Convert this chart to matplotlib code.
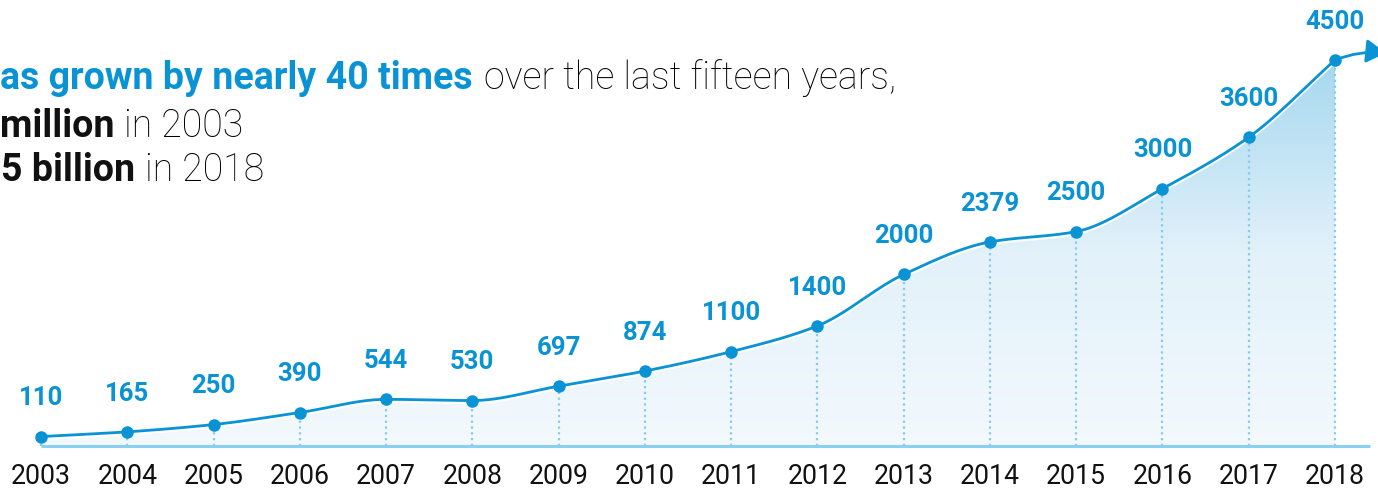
import numpy as np
import matplotlib
matplotlib.use("Agg")
import matplotlib.pyplot as plt
from matplotlib import patheffects as pe
from matplotlib.colors import LinearSegmentedColormap

years = ["2003", "2004", "2005", "2006", "2007", "2008", "2009", "2010",
         "2011", "2012", "2013", "2014", "2015", "2016", "2017", "2018"]
values = [110, 165, 250, 390, 544, 530, 697, 874, 1100, 1400, 2000, 2379,
          2500, 3000, 3600, 4500]
value_labels = [str(v) for v in values]

header_lines = [
    ("as grown by nearly 40 times", "over the last fifteen years,"),
    ("million", "in 2003"),
    ("5 billion", "in 2018"),
]

BLUE = "#0a93d4"
W, H = 1378, 491

fig = plt.figure(figsize=(W / 100, H / 100), dpi=100)
ax = fig.add_axes([0, 0, 1, 1])
ax.set_axis_off()

# pixel mapping
x0_px, dx_px = 41, 86.27
base_px, top_px = 446, 60
k = (base_px - top_px) / 4500.0
ax.set_xlim(-x0_px / dx_px, 15 + (W - 1335) / dx_px)
ax.set_ylim((base_px - H) / k, base_px / k)

xs = np.arange(len(values), dtype=float)
ys = np.array(values, dtype=float)


def pchip(x, y, xn):
    h = np.diff(x)
    d = np.diff(y) / h
    m = np.zeros_like(y)
    for i in range(1, len(y) - 1):
        if d[i - 1] * d[i] <= 0:
            m[i] = 0
        else:
            w1 = 2 * h[i] + h[i - 1]
            w2 = h[i] + 2 * h[i - 1]
            m[i] = (w1 + w2) / (w1 / d[i - 1] + w2 / d[i])
    m[0] = d[0]
    m[-1] = d[-1]
    out = np.empty_like(xn)
    for j, t in enumerate(xn):
        i = min(max(np.searchsorted(x, t) - 1, 0), len(x) - 2)
        hh = h[i]
        s = (t - x[i]) / hh
        h00 = 2 * s**3 - 3 * s**2 + 1
        h10 = s**3 - 2 * s**2 + s
        h01 = -2 * s**3 + 3 * s**2
        h11 = s**3 - s**2
        out[j] = h00 * y[i] + h10 * hh * m[i] + h01 * y[i + 1] + h11 * hh * m[i + 1]
    return out


xf = np.linspace(xs[0], xs[-1], 800)
yf = pchip(xs, ys, xf)

# gradient fill under curve
cmap = LinearSegmentedColormap.from_list("g", ["#f3f9fd", "#e2f1fa", "#a6d8ef"])
grad = np.linspace(0, 1, 256).reshape(-1, 1)
im = ax.imshow(grad, extent=[xs[0], xs[-1], 0, 4500], origin="lower",
               aspect="auto", cmap=cmap, zorder=1)
poly = ax.fill_between(xf, 0, yf, color="none", lw=0)
clip = poly.get_paths()[0]
im.set_clip_path(clip, transform=ax.transData)

# dotted verticals
for x, y in zip(xs, ys):
    ax.plot([x, x], [0, y], color="#86cbec", lw=1.6, ls=(0, (1, 1.6)), zorder=2)

# baseline
ax.plot([xs[0], 15 + (1370 - 1335) / dx_px], [0, 0], color="#8ad0f0", lw=2.2,
        zorder=3, solid_capstyle="butt")

# curve with white shadow
ax.plot(xf, yf, color=BLUE, lw=2.0, zorder=5,
        path_effects=[pe.SimpleLineShadow(offset=(0, -1.6), shadow_color="white",
                                          alpha=1, rho=1), pe.Normal()])

# arrow at end (tip runs past the right edge like the reference)
ax.annotate("", xy=(15 + (1386 - 1335) / dx_px, (base_px - 53) / k),
            xytext=(xs[-1], ys[-1]),
            arrowprops=dict(arrowstyle="-|>,head_length=0.6,head_width=0.36",
                            color=BLUE, lw=2.0, shrinkA=0, shrinkB=0,
                            connectionstyle="arc3,rad=-0.12", mutation_scale=20),
            zorder=5, annotation_clip=False)

# markers
ax.plot(xs, ys, "o", color=BLUE, ms=9, zorder=6, mec="none")

# value labels
for x, y, lab in zip(xs, ys, value_labels):
    ax.annotate(lab, (x, y), xytext=(0, 27.5), textcoords="offset points",
                ha="center", va="center", color=BLUE, fontsize=18.5,
                fontweight="bold", family="Roboto", zorder=7)

# year labels
for x, lab in zip(xs, years):
    ax.text(x, (base_px - 476) / k, lab, ha="center", va="center",
            fontsize=19.2, family="Roboto", color="#111111")


def fx(px):
    return px / W


def fy(py):
    return 1 - py / H


# header text
fs = 27
renderer = fig.canvas.get_renderer()
line_specs = [(0, 89, BLUE, 11), (0, 137, "#111111", 10), (1, 181, "#111111", 10)]
for (bold_txt, reg_txt), (xpx, ypx, bcol, gap) in zip(header_lines, line_specs):
    t = fig.text(fx(xpx), fy(ypx), bold_txt, ha="left", va="baseline",
                 fontsize=fs, fontweight="bold", color=bcol, family="Roboto")
    ext = t.get_window_extent(renderer)
    fig.text(fx(ext.x1 + gap), fy(ypx), reg_txt, ha="left", va="baseline",
             fontsize=fs, fontweight="light", color="#000000", family="Roboto")

fig.savefig("out.png", dpi=100, facecolor="white")
